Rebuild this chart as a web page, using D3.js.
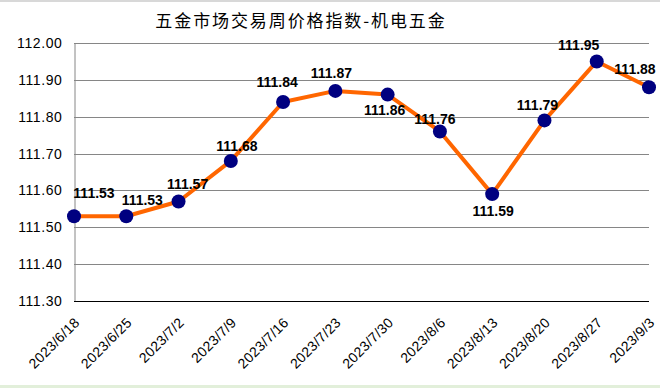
<!DOCTYPE html>
<html>
<head>
<meta charset="utf-8">
<script src="https://cdn.jsdelivr.net/npm/d3@7"></script>
<style>
  body { margin: 0; background: #fff; }
  svg { display: block; }
</style>
</head>
<body>
<div id="chart"></div>
<script>
var width = 660;
var height = 388;

var title = "五金市场交易周价格指数-机电五金";
var dates = ["2023/6/18", "2023/6/25", "2023/7/2", "2023/7/9", "2023/7/16", "2023/7/23",
             "2023/7/30", "2023/8/6", "2023/8/13", "2023/8/20", "2023/8/27", "2023/9/3"];
var values = [111.53, 111.53, 111.57, 111.68, 111.84, 111.87, 111.86, 111.76, 111.59, 111.79, 111.95, 111.88];
var yTicks = [111.30, 111.40, 111.50, 111.60, 111.70, 111.80, 111.90, 112.00];

// where each value label sits relative to its point (layout only)
var labelDx = [20, 16, 9, 6, -6, -4, -3, -5, 1, -7, -18, -14];
var labelDy = [-18, -11, -12, -10, -15, -13, 20, -7, 22, -10, -11, -13];

var margin = { left: 74, right: 11, top: 43, bottom: 87 };

var svg = d3.select('#chart').append('svg').attr('width', width).attr('height', height);

// spreadsheet bits around the chart
svg.append('rect').attr('x', 0).attr('y', 0).attr('width', width).attr('height', 2).attr('fill', '#d8d8d8');
svg.append('rect').attr('x', 0).attr('y', 385).attr('width', width).attr('height', 3).attr('fill', '#e2efda');

var x = d3.scalePoint()
    .domain(dates)
    .range([margin.left, width - margin.right])
    .padding(0);

var y = d3.scaleLinear()
    .domain([111.30, 112.00])
    .range([height - margin.bottom, margin.top]);

// gridlines
svg.append('g').selectAll('line')
    .data(yTicks.slice(1))
    .enter()
    .append('line')
    .attr('x1', margin.left).attr('x2', width - margin.right)
    .attr('y1', function(d){ return Math.round(y(d)) + 0.5 })
    .attr('y2', function(d){ return Math.round(y(d)) + 0.5 })
    .attr('stroke', '#868686');

// left axis
var yAxis = d3.axisLeft(y).tickValues(yTicks).tickFormat(d3.format('.2f')).tickSize(0).tickPadding(12);
var gy = svg.append('g').attr('transform', 'translate(' + (margin.left + 0.5) + ',0)').call(yAxis);
gy.select('.domain').attr('stroke', '#868686');
gy.selectAll('text')
    .style('font-family', 'Arial, "Liberation Sans", sans-serif')
    .style('font-size', '14px')
    .style('letter-spacing', '0.6px')
    .attr('fill', '#000');

// bottom axis
var base = Math.round(y(111.30)) + 0.5;
svg.append('line')
    .attr('x1', margin.left).attr('x2', width - margin.right)
    .attr('y1', base).attr('y2', base)
    .attr('stroke', '#000');

svg.append('g').selectAll('text')
    .data(dates)
    .enter()
    .append('text')
    .attr('transform', function(d){ return 'translate(' + (x(d) + 3) + ',' + 320 + ') rotate(-45)' })
    .attr('text-anchor', 'end')
    .attr('dy', '0.35em')
    .style('font-family', 'Arial, "Liberation Sans", sans-serif')
    .style('font-size', '14px')
    .style('letter-spacing', '0.3px')
    .text(function(d){ return d });

// line
var line = d3.line()
    .x(function(d, i){ return x(dates[i]) })
    .y(function(d){ return y(d) });

svg.append('path')
    .datum(values)
    .attr('d', line)
    .attr('fill', 'none')
    .attr('stroke', '#ff6600')
    .attr('stroke-width', 4)
    .attr('stroke-linejoin', 'round');

svg.append('g').selectAll('circle')
    .data(values)
    .enter()
    .append('circle')
    .attr('cx', function(d, i){ return x(dates[i]) })
    .attr('cy', function(d){ return y(d) })
    .attr('r', 7)
    .attr('fill', '#000080');

// value labels
svg.append('g').selectAll('text')
    .data(values)
    .enter()
    .append('text')
    .attr('x', function(d, i){ return x(dates[i]) + labelDx[i] })
    .attr('y', function(d, i){ return y(d) + labelDy[i] })
    .attr('text-anchor', 'middle')
    .style('font-family', 'Arial, "Liberation Sans", sans-serif')
    .style('font-size', '14px')
    .style('font-weight', 'bold')
    .text(function(d){ return d.toFixed(2) });

// title
svg.append('text')
    .attr('x', 301)
    .attr('y', 27)
    .attr('text-anchor', 'middle')
    .style('font-family', '"Noto Sans CJK SC", sans-serif')
    .style('font-size', '17px')
    .style('letter-spacing', '1.9px')
    .text(title);
</script>
</body>
</html>
